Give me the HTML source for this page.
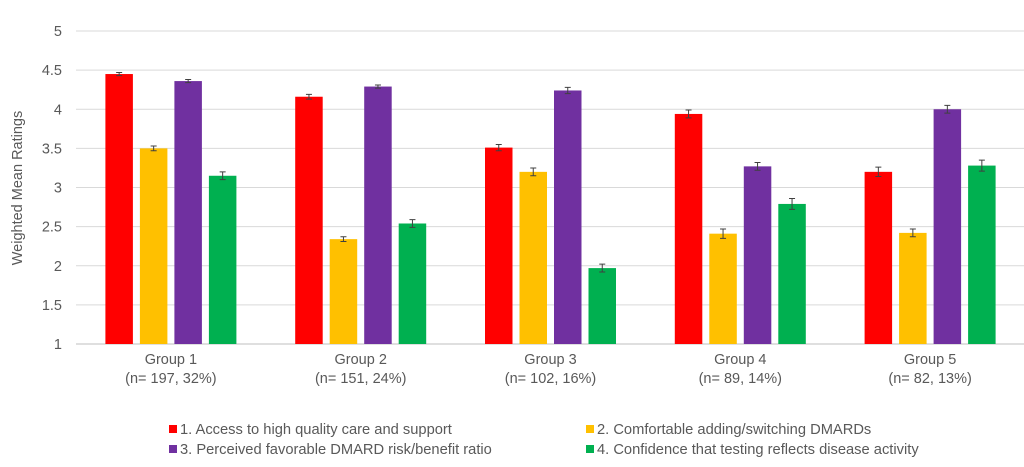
<!DOCTYPE html>
<html><head><meta charset="utf-8"><style>
body{margin:0;background:#fff;}
svg text{font-family:"Liberation Sans",Arial,sans-serif;fill:#595959;}
</style></head><body>
<svg id="chart" width="1024" height="462" xmlns="http://www.w3.org/2000/svg">
<g id="grid"></g><g id="bars"></g><g id="labels"></g>
<text transform="translate(22,188) rotate(-90)" text-anchor="middle" font-size="14.5">Weighted Mean Ratings</text>
<g id="legend"></g>
</svg>
<script>
const categories=["Group 1","Group 2","Group 3","Group 4","Group 5"];
const subLabels=["(n= 197, 32%)","(n= 151, 24%)","(n= 102, 16%)","(n= 89, 14%)","(n= 82, 13%)"];
const seriesNames=["1. Access to high quality care and support","2. Comfortable adding/switching DMARDs","3. Perceived favorable DMARD risk/benefit ratio","4. Confidence that testing reflects disease activity"];
const s1=[4.45,4.16,3.51,3.94,3.20];
const s2=[3.50,2.34,3.20,2.41,2.42];
const s3=[4.36,4.29,4.24,3.27,4.00];
const s4=[3.15,2.54,1.97,2.79,3.28];
const e1=[0.02,0.03,0.04,0.05,0.06];
const e2=[0.03,0.03,0.05,0.06,0.05];
const e3=[0.02,0.02,0.04,0.05,0.05];
const e4=[0.05,0.05,0.05,0.07,0.07];
const yTicks=[1,1.5,2,2.5,3,3.5,4,4.5,5];
const colors=["#ff0000","#ffc000","#7030a0","#00b050"];
const NS="http://www.w3.org/2000/svg";
const x0=76,x1=1025,gw=(x1-x0)/categories.length;
const y=v=>344-(v-1)*(313/4);
function mk(t,a,p){const e=document.createElementNS(NS,t);for(const k in a)e.setAttribute(k,a[k]);p.appendChild(e);return e;}
const grid=document.getElementById('grid'),bars=document.getElementById('bars'),labels=document.getElementById('labels'),legend=document.getElementById('legend');
yTicks.forEach(t=>{
 const l=mk('line',{x1:x0,x2:x1,y1:y(t),y2:y(t),stroke:t===1?'#bfbfbf':'#d9d9d9','stroke-width':1},grid);
 
 
 const tx=mk('text',{x:62,y:y(t)+5,'text-anchor':'end','font-size':14.5},grid);tx.textContent=t;
 
 
});
const series=[s1,s2,s3,s4],errs=[e1,e2,e3,e4],offs=[-65.5,-31,3.5,38];
categories.forEach((c,i)=>{
 const cx=x0+gw*(i+0.5);
 series.forEach((s,k)=>{
  const bx=cx+offs[k],v=s[i];
  const r=mk('rect',{x:bx,y:y(v),width:27.5,height:344-y(v),fill:colors[k]},bars);
  
  
  const m=bx+13.75,e=errs[k][i];
  const g=mk('path',{d:`M${m},${y(v+e)}V${y(v-e)}M${m-3},${y(v+e)}H${m+3}M${m-3},${y(v-e)}H${m+3}`,stroke:'#404040','stroke-width':1,fill:'none'},bars);
  
  
 });
 const t1=mk('text',{x:cx,y:364,'text-anchor':'middle','font-size':14.5},labels);t1.textContent=c;
 
 
 const t2=mk('text',{x:cx,y:383,'text-anchor':'middle','font-size':14.5},labels);t2.textContent=subLabels[i];
 
 
});
const lx=[169,586,169,586];
const lyy=[425,425,445,445];
seriesNames.forEach((n,k)=>{
 const r=mk('rect',{x:lx[k],y:lyy[k],width:8,height:8,fill:colors[k]},legend);
 
 
 const t=mk('text',{x:lx[k]+11,y:lyy[k]+9,'font-size':14.7},legend);t.textContent=n;
 
 
});
</script>
</body></html>
